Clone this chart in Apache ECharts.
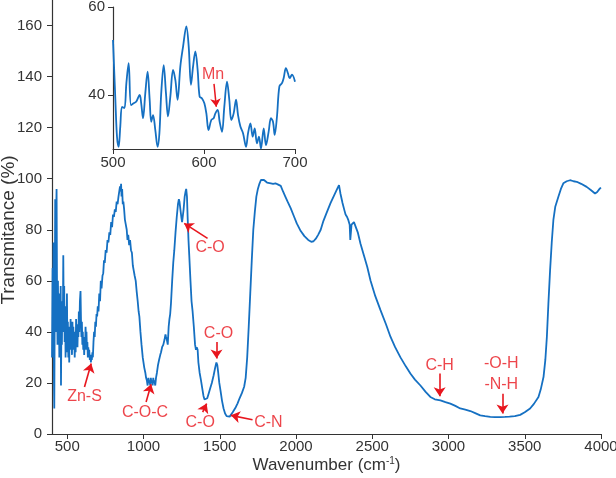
<!DOCTYPE html>
<html>
<head>
<meta charset="utf-8">
<script src="https://cdn.jsdelivr.net/npm/echarts@6/dist/echarts.min.js"></script>
<style>
  html, body { margin: 0; padding: 0; background: #fff; }
  #chart { width: 616px; height: 478px; }
</style>
</head>
<body>
<div id="chart"></div>
<script>
// FTIR spectrum, wavenumber (cm-1) vs transmitance (%)
var spectrum = [
  [400,30],[404,65],[407,45],[410,75],[413,20],[415,10],[418,50],[421,92],[424,40],[427,85],
  [430,96],[433,55],[436,35],[439,60],[442,40],[445,55],[448,30],[451,50],[454,38],[457,58],
  [459,19],[462,45],[465,35],[468,52],[471,40],[474,70],[477,45],[480,58],[483,36],[486,50],
  [489,30],[492,45],[495,38],[498,55],[501,32],[504,44],[507,30],[510,40],[513,28],[516,42],
  [519,33],[522,45],[525,35],[528,40],[531,31],[534,44],[537,36],[540,42],[543,33],[546,38],
  [549,30],[552,40],[555,32],[558,45],[561,36],[564,40],[567,34],[570,43],[573,38],[576,48],
  [579,40],[583,52],[587,56],[590,45],[593,38],[596,44],[599,35],[602,40],[605,33],[608,38],
  [611,31],[614,36],[617,33],[620,42],[623,37],[626,40],[629,33],[632,36],[635,30],[638,34],
  [641,31],[644,33],[648,29],[652,31],[655,28],[658,30],[661,29],[665,32],[668,30],[672,36],
  [676,40],[680,38],[684,44],[688,42],[692,47],[696,46],[700,50],[705,48],[710,55],[715,52],
  [720,60],[725,57],[731,62],[736,63],[741,68],[746,67],[752,72],[758,71],[764,76],[770,75],
  [776,79],[782,78],[788,83],[794,81],[800,86],[806,85],[812,88],[818,87],[824,91],[830,90],
  [836,93],[842,93],[846,97],[850,95],[853,98],[856,93],[860,96],[864,90],[868,91],[873,88],
  [878,84],[884,82],[890,80],[895,76],[900,78],[906,74],[912,76],[918,72],[924,71],[930,66],
  [936,64],[942,62],[949,60],[955,56],[962,52],[968,48],[973,46],[980,40],[987,35],[995,30],
  [1005,26],[1012,24],[1017,22],[1022,21],[1027,19],[1032,22],[1036,20],[1040,21],[1044,19],
  [1048,22],[1052,20],[1056,21],[1060,19],[1064,22],[1068,20],[1072,21],[1077,19],[1082,22],
  [1088,24],[1095,27],[1102,29],[1110,31],[1115,32],[1122,34],[1130,35],[1138,37],[1144,39],
  [1148,38],[1153,37],[1159,35],[1165,42],[1170,45],[1175,47],[1180,51],[1188,60],[1195,67],
  [1202,72],[1210,79],[1218,85],[1226,90],[1232,92],[1236,91],[1242,88],[1248,85],[1253,83],
  [1258,83],[1263,88],[1270,93],[1276,95],[1280,96],[1285,93],[1290,84],[1295,76],[1300,70],
  [1308,60],[1315,52],[1322,48],[1330,42],[1338,35],[1344,33],[1349,34],[1355,33],[1360,28],
  [1368,24],[1377,21],[1385,18],[1393,15],[1400,13.5],[1409,13],[1418,14],[1428,16],[1438,18],
  [1448,20],[1460,23],[1470,26],[1478,28],[1484,27],[1490,24],[1497,20],[1505,17],[1515,13],
  [1525,10],[1535,8],[1545,7],[1555,6.5],[1565,6.8],[1575,7.5],[1585,8.5],[1595,9.5],[1605,10.5],
  [1617,12],[1630,14],[1645,16],[1660,18.5],[1670,22],[1680,30],[1690,42],[1700,55],[1710,68],
  [1720,80],[1730,87],[1740,93],[1750,96],[1760,98],[1770,99.5],[1780,100],[1790,99.5],[1800,99],
  [1810,98.5],[1820,98.8],[1835,98.2],[1850,98],[1865,98.2],[1880,97.8],[1900,97.2],[1915,95],
  [1930,93],[1945,91],[1965,88.5],[1985,85.5],[2005,82.5],[2031,79.5],[2055,77.5],[2080,76],
  [2100,75.3],[2115,75.5],[2130,76.5],[2145,78],[2162,80],[2180,83.5],[2200,86.5],[2227,90.5],
  [2250,93.5],[2270,96],[2282,97.5],[2292,94],[2305,90.5],[2318,87.5],[2325,86],[2335,85],
  [2342,84],[2347,84],[2352,82],[2356,76],[2360,79],[2364,82],[2369,82],[2380,83],[2391,82.5],
  [2405,79],[2423,74.5],[2445,70],[2467,65.5],[2489,60],[2520,54],[2554,48.5],[2590,43],
  [2620,38],[2650,34],[2685,30],[2720,26.5],[2750,23.7],[2780,21.3],[2816,19],[2850,16.5],
  [2881,14.5],[2910,13.6],[2947,13.2],[2980,12.5],[3012,11.9],[3045,11],[3077,10],[3110,9.5],
  [3143,9],[3175,8.2],[3208,7.3],[3240,7],[3274,6.7],[3305,6.6],[3339,6.6],[3370,6.7],[3400,6.8],
  [3435,7],[3470,7.5],[3500,8.5],[3535,10],[3560,11.8],[3590,14.5],[3605,17.5],[3623,22.3],
  [3635,29],[3645,38],[3655,51],[3666,64],[3677,75],[3688,84],[3700,89],[3721,93],[3737,96],
  [3753,98.2],[3775,99],[3797,99.4],[3820,99],[3841,98.8],[3870,98],[3906,96.8],[3935,95.5],
  [3961,94.2],[3975,94.8],[3993,96.2],[4000,96.5]
];

// zoomed region 500-700 cm-1 (inset)
var insetSpectrum = [
  [500,52.5],[502.6,38.9],[504.4,30.5],[506.2,28.2],[508,32.8],[509.9,37.3],[512.5,37],
  [514.7,42.7],[517.2,47.2],[519.8,37.7],[522.7,38.1],[525.6,38.5],[529.3,40],[531,38.1],
  [533,34.7],[535.5,40.4],[538,45.3],[540.3,38.9],[542,33.9],[544,35.4],[546.5,32],[549,28.2],
  [551,31.3],[553,40.4],[555.7,46.8],[558.2,40.4],[560.4,35.1],[563,39.6],[566,45.7],
  [568.5,43.4],[571,38.9],[574,46.5],[577,51],[580.6,55.6],[583.2,51],[585.7,42.3],[588,46.5],
  [590.5,49.9],[593,45.7],[595.2,39.6],[597.8,39.2],[600.4,38.1],[602.6,35.8],[605,32],
  [608,34.3],[610.6,34.7],[612.5,35.8],[615,36.6],[617.2,33.9],[619.8,31.6],[622.3,37.3],
  [625.3,43],[627.8,38.9],[630,34.3],[632.6,35.8],[635.2,38.9],[637.4,35.4],[640,32.8],
  [642.9,31.3],[646.2,28.2],[648.4,31.3],[651,33.5],[653.5,30.5],[655.7,32.4],[658.2,29],
  [660.4,30.5],[662.6,27.8],[665.6,32.4],[668.1,28.6],[671,31.6],[673.6,34.7],[675.8,33.9],
  [677.7,30.9],[680.2,35.1],[682.8,41.9],[685.7,42.7],[687.5,43.8],[690,46.1],[692.3,44.9],
  [694.1,43.8],[696.7,44.6],[700,43]
];

var xTicks = [500, 1000, 1500, 2000, 2500, 3000, 3500, 4000];
var yTicks = [0, 20, 40, 60, 80, 100, 120, 140, 160];
var insetXTicks = [500, 600, 700];
var insetYTicks = [40, 60];

// band assignments: label, label position, arrow start, arrow end
var bands = [
  { name: 'Zn-S',  text: [613, 14.5],  from: [613, 18.4],  to: [657, 27.6] },
  { name: 'C-O-C', text: [1010, 8.4],  from: [1017, 12.5], to: [1050, 19.5] },
  { name: 'C-O',   text: [1372, 4.5],  from: [1388, 8.6],  to: [1414, 11.9] },
  { name: 'C-N',   text: [1819, 4.3],  from: [1715, 5.6],  to: [1573, 7.3] },
  { name: 'C-O',   text: [1492, 39.4], from: [1479, 36],   to: [1479, 29.6] },
  { name: 'C-O',   text: [1437, 73],   from: [1420, 76.6], to: [1267, 82.5] },
  { name: 'C-H',   text: [2942, 26.7], from: [2942, 23.7], to: [2942, 14.8] },
  { name: '-O-H\n-N-H', text: [3346, 23.5], from: [3354, 15.8], to: [3354, 8] }
];
var insetBands = [
  { name: 'Mn', text: [610, 44.6], from: [611, 42.5], to: [613.5, 37.3] }
];

var blue = '#1570c2';
var red = '#e8161e';
var ink = '#333';
var font = 'Liberation Sans, Arial, sans-serif';

function arrows(list) {
  return list.map(function (b) {
    return [{ coord: b.from, symbol: 'none' }, { coord: b.to, symbol: 'arrow' }];
  });
}
function labels(list) {
  return list.map(function (b) {
    return { name: b.name, value: b.text };
  });
}
function plain(v) { return String(v); }

var myChart = echarts.init(document.getElementById('chart'), null, { renderer: 'canvas' });

var option = {
  animation: false,
  backgroundColor: '#fff',
  grid: [
    { left: 52, right: 15, top: 0, bottom: 44, outerBoundsMode: 'none' },
    { left: 113, top: 7, width: 182, height: 142, outerBoundsMode: 'none' }
  ],
  xAxis: [
    {
      type: 'value', gridIndex: 0, min: 400, max: 4000,
      name: 'Wavenumber (cm{sup|-1})', nameLocation: 'middle', nameGap: 22, nameMoveOverlap: false,
      nameTextStyle: {
        color: ink, fontSize: 17, fontFamily: font,
        rich: { sup: { fontSize: 10, verticalAlign: 'top', padding: [0, 0, 8, 0], color: ink, fontFamily: font } }
      },
      axisLine: { lineStyle: { color: ink, width: 1.2 } },
      axisTick: { show: true, length: 5, lineStyle: { color: ink }, customValues: xTicks },
      axisLabel: { color: ink, fontSize: 15, fontFamily: font, margin: 5, customValues: xTicks, formatter: plain },
      splitLine: { show: false }
    },
    {
      type: 'value', gridIndex: 1, min: 500, max: 700,
      axisLine: { lineStyle: { color: ink, width: 1.2 } },
      axisTick: { show: true, length: 5, lineStyle: { color: ink }, customValues: insetXTicks },
      axisLabel: { color: ink, fontSize: 15, fontFamily: font, margin: 6, customValues: insetXTicks, formatter: plain },
      splitLine: { show: false }
    }
  ],
  yAxis: [
    {
      type: 'value', gridIndex: 0, min: 0, max: 170,
      name: 'Transmitance (%)', nameLocation: 'middle', nameGap: 34, nameMoveOverlap: false,
      nameTextStyle: { color: ink, fontSize: 19, fontFamily: font, padding: [0, 26, 0, 0] },
      axisLine: { show: true, lineStyle: { color: ink, width: 1.2 } },
      axisTick: { show: true, length: 5, lineStyle: { color: ink }, customValues: yTicks },
      axisLabel: { color: ink, fontSize: 15, fontFamily: font, margin: 10, customValues: yTicks, formatter: plain },
      splitLine: { show: false }
    },
    {
      type: 'value', gridIndex: 1, min: 27.7, max: 60,
      axisLine: { show: true, lineStyle: { color: ink, width: 1.2 } },
      axisTick: { show: true, length: 5, lineStyle: { color: ink }, customValues: insetYTicks },
      axisLabel: { color: ink, fontSize: 15, fontFamily: font, margin: 8, customValues: insetYTicks, formatter: plain },
      splitLine: { show: false }
    }
  ],
  series: [
    {
      type: 'line', name: 'spectrum', xAxisIndex: 0, yAxisIndex: 0,
      data: spectrum, showSymbol: false,
      lineStyle: { color: blue, width: 1.8 },
      markLine: {
        silent: true, symbolSize: 9,
        lineStyle: { color: red, width: 1.6, type: 'solid' },
        label: { show: false },
        data: arrows(bands)
      }
    },
    {
      type: 'line', name: 'inset', xAxisIndex: 1, yAxisIndex: 1,
      data: insetSpectrum, showSymbol: false, smooth: 0.35,
      lineStyle: { color: blue, width: 1.8 },
      markLine: {
        silent: true, symbolSize: 8,
        lineStyle: { color: red, width: 1.5, type: 'solid' },
        label: { show: false },
        data: arrows(insetBands)
      }
    },
    {
      type: 'scatter', xAxisIndex: 0, yAxisIndex: 0, symbolSize: 0, silent: true,
      data: labels(bands),
      label: {
        show: true, position: 'inside', formatter: '{b}',
        color: red, fontSize: 16, fontFamily: font, lineHeight: 21
      }
    },
    {
      type: 'scatter', xAxisIndex: 1, yAxisIndex: 1, symbolSize: 0, silent: true,
      data: labels(insetBands),
      label: {
        show: true, position: 'inside', formatter: '{b}',
        color: red, fontSize: 16, fontFamily: font
      }
    }
  ]
};

myChart.setOption(option);
</script>
</body>
</html>
